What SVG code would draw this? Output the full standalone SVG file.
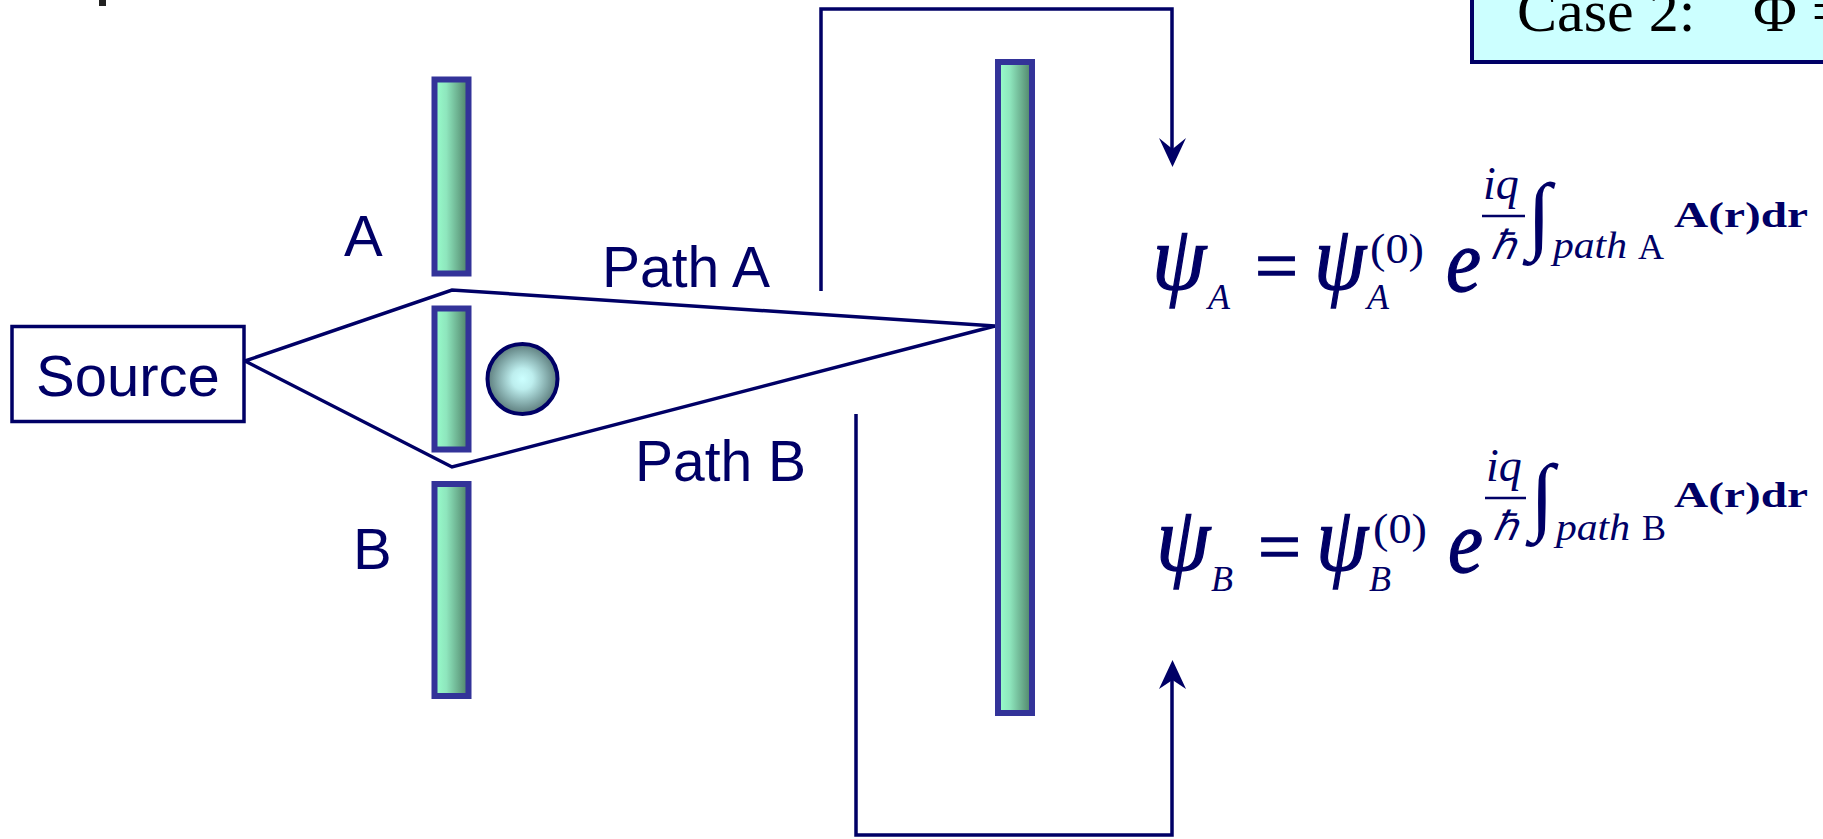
<svg xmlns="http://www.w3.org/2000/svg" width="1823" height="839" viewBox="0 0 1823 839">
<defs>
<linearGradient id="slitGrad" x1="0" y1="0" x2="1" y2="0">
<stop offset="0" stop-color="#99ffcc"/>
<stop offset="0.35" stop-color="#8ee6bd"/>
<stop offset="1" stop-color="#4d7f66"/>
</linearGradient>
<radialGradient id="ballGrad" cx="0.5" cy="0.5" r="0.5">
<stop offset="0" stop-color="#ccffff"/>
<stop offset="0.3" stop-color="#bdeeee"/>
<stop offset="1" stop-color="#5c7c7c"/>
</radialGradient>
<style>
.slit{fill:url(#slitGrad);stroke:#333399;stroke-width:6}
.wire{fill:none;stroke:#000066;stroke-width:3.5;stroke-linejoin:miter}
.lbl{font-family:"Liberation Sans",Arial,sans-serif;fill:#000066}
.eq{font-family:"Liberation Serif","Times New Roman",serif;fill:#000066}
.it{font-style:italic}
.bd{font-weight:bold}
.heavy{stroke:#000066;stroke-width:1.3}
.head{fill:#000066}
</style>
</defs>
<rect x="99" y="0" width="7" height="6" fill="#222222"/>
<g id="case-box">
<rect x="1472" y="-10" width="400" height="72" fill="#ccffff" stroke="#000066" stroke-width="4"/>
<text x="1517" y="31" font-family="Liberation Serif,'Times New Roman',serif" font-size="60" fill="#000000">Case 2:</text>
<text x="1753" y="31" font-family="Liberation Serif,'Times New Roman',serif" font-size="60" fill="#000000">Φ =</text>
</g>
<g id="connectors">
<polyline class="wire" points="245,361 452,290 995,326 452,467 245,361"/>
<polyline class="wire" points="821,291 821,9 1172,9 1172,152"/>
<path class="head" d="M1172.5,167 L1159,138 L1172.5,149 L1186,138 Z"/>
<polyline class="wire" points="856,414 856,835 1172,835 1172,678"/>
<path class="head" d="M1172.5,660 L1159,689 L1172.5,680 L1186,689 Z"/>
</g>
<g id="source">
<rect x="12" y="326.5" width="232" height="95" fill="#ffffff" stroke="#000066" stroke-width="3.5"/>
<text class="lbl" x="36" y="396" font-size="58">Source</text>
</g>
<g id="slit-top"><rect class="slit" x="434.5" y="79.5" width="34" height="194"/></g>
<g id="slit-middle"><rect class="slit" x="434.5" y="308.5" width="34" height="141"/></g>
<g id="slit-bottom"><rect class="slit" x="434.5" y="484" width="34" height="212"/></g>
<g id="screen"><rect class="slit" x="998" y="62" width="34" height="651"/></g>
<g id="solenoid"><circle cx="522.5" cy="379" r="35" fill="url(#ballGrad)" stroke="#000066" stroke-width="4"/></g>
<g id="labels">
<text class="lbl" x="344" y="256" font-size="58">A</text>
<text class="lbl" x="353" y="569" font-size="58">B</text>
<text class="lbl" x="602" y="287" font-size="57">Path A</text>
<text class="lbl" x="635" y="481" font-size="57">Path B</text>
</g>
<g id="eq-a">
<text class="eq it heavy" x="1152" y="289" font-size="92" textLength="54" lengthAdjust="spacingAndGlyphs">ψ</text>
<text class="eq it" x="1208" y="309" font-size="36">A</text>
<text class="eq heavy" x="1255" y="290" font-size="72" textLength="43" lengthAdjust="spacingAndGlyphs">=</text>
<text class="eq it heavy" x="1314" y="289" font-size="92" textLength="52" lengthAdjust="spacingAndGlyphs">ψ</text>
<text class="eq it" x="1367" y="309" font-size="36">A</text>
<text class="eq" x="1370" y="263" font-size="42" textLength="54" lengthAdjust="spacingAndGlyphs">(0)</text>
<text class="eq it heavy" x="1446" y="291" font-size="88" textLength="35" lengthAdjust="spacingAndGlyphs">e</text>
<text class="eq it" x="1483" y="199" font-size="46">iq</text>
<line x1="1482" y1="216" x2="1525" y2="216" stroke="#000066" stroke-width="2.5"/>
<text class="eq it" x="1491" y="259" font-size="40">ℏ</text>
<text class="eq" x="1527" y="243" font-size="86" textLength="24" lengthAdjust="spacingAndGlyphs">∫</text>
<text class="eq it" x="1553" y="258" font-size="38" textLength="74" lengthAdjust="spacingAndGlyphs">path</text>
<text class="eq" x="1638" y="259" font-size="36">A</text>
<text class="eq bd" x="1674" y="227" font-size="36" textLength="134" lengthAdjust="spacingAndGlyphs">A(r)dr</text>
</g>
<g id="eq-b">
<text class="eq it heavy" x="1156" y="570" font-size="92" textLength="54" lengthAdjust="spacingAndGlyphs">ψ</text>
<text class="eq it" x="1211" y="591" font-size="36">B</text>
<text class="eq heavy" x="1258" y="571" font-size="72" textLength="43" lengthAdjust="spacingAndGlyphs">=</text>
<text class="eq it heavy" x="1316" y="570" font-size="92" textLength="52" lengthAdjust="spacingAndGlyphs">ψ</text>
<text class="eq it" x="1369" y="591" font-size="36">B</text>
<text class="eq" x="1373" y="543" font-size="42" textLength="54" lengthAdjust="spacingAndGlyphs">(0)</text>
<text class="eq it heavy" x="1448" y="572" font-size="88" textLength="35" lengthAdjust="spacingAndGlyphs">e</text>
<text class="eq it" x="1486" y="481" font-size="46">iq</text>
<line x1="1485" y1="498" x2="1526" y2="498" stroke="#000066" stroke-width="2.5"/>
<text class="eq it" x="1493" y="540" font-size="40">ℏ</text>
<text class="eq" x="1530" y="524" font-size="86" textLength="24" lengthAdjust="spacingAndGlyphs">∫</text>
<text class="eq it" x="1556" y="540" font-size="38" textLength="74" lengthAdjust="spacingAndGlyphs">path</text>
<text class="eq" x="1642" y="540" font-size="36">B</text>
<text class="eq bd" x="1674" y="507" font-size="36" textLength="134" lengthAdjust="spacingAndGlyphs">A(r)dr</text>
</g>
</svg>
